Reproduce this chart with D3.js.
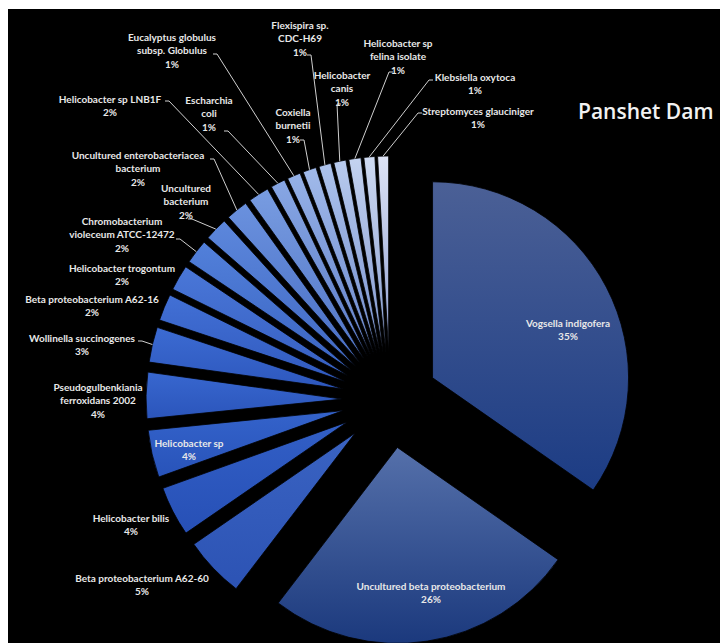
<!DOCTYPE html>
<meta charset="utf-8">
<script src="https://d3js.org/d3.v7.min.js"></script>
<style>
  body { margin: 0; background: #fff; }
</style>
<div id="vis"></div>
<script>

    // species, clockwise from 12 o'clock
    var species = [
        "Vogsella indigofera",
        "Uncultured beta proteobacterium",
        "Beta proteobacterium A62-60",
        "Helicobacter bilis",
        "Helicobacter sp",
        "Pseudogulbenkiania\nferroxidans 2002",
        "Wollinella succinogenes",
        "Beta proteobacterium A62-16",
        "Helicobacter trogontum",
        "Chromobacterium\nvioleceum ATCC-12472",
        "Uncultured\nbacterium",
        "Uncultured enterobacteriacea\nbacterium",
        "Helicobacter sp LNB1F",
        "Escharchia\ncoli",
        "Eucalyptus globulus\nsubsp. Globulus",
        "Coxiella\nburnetii",
        "Flexispira sp.\nCDC-H69",
        "Helicobacter\ncanis",
        "Helicobacter sp\nfelina isolate",
        "Klebsiella oxytoca",
        "Streptomyces glauciniger"
    ];

    // share of each (percent)
    var shares = [34.7, 25.7, 5.0, 4.1, 3.9, 3.8, 2.9, 2.2, 2.1, 2.0, 1.9, 1.8, 1.7,
                  1.2, 1.1, 1.1, 1.0, 1.0, 1.0, 0.9, 0.9];

    var title = "Panshet Dam";

    // label placement (centre of first line) and leader line start, page px
    var labelAt = [
        [568, 323], [431, 586], [142, 578], [131, 518], [189, 443], [98, 387],
        [82, 338], [92, 299], [122, 268], [122, 221], [186, 188], [138, 155],
        [110, 99], [209, 100], [172, 37], [293, 112], [300, 25], [342, 75],
        [398, 43], [475, 77], [478, 111]
    ];
    var leaderFrom = [
        null, null, null, null, null, null,
        [138, 341], null, null, [176, 239], [188, 219], [210, 159],
        [165, 101], [224, 131], [213, 54], [300, 140], [307, 55], [341, 104],
        [393, 72], [433, 80], [422, 113]
    ];

    // slice tints (lighter edge), Excel monochrome blue
    var tint = ["#4b6096", "#5570aa", "#3a63c2", "#325fc6", "#3463cb", "#3867cf",
                "#3c6bd2", "#4270d5", "#4a77d8", "#5280da", "#5c87dc", "#6a91de",
                "#789ce1", "#88a7e4", "#95b1e7", "#a1baea", "#adc3ec", "#b8cbee",
                "#c4d3f0", "#cfdbf2", "#dde3f5"];

    var W = 720, H = 643;
    var cx = 390, cy = 400, radius = 196, explode = 48;

    var svg = d3.select("#vis")
        .append("svg")
        .attr("width", W)
        .attr("height", H);

    svg.append("rect").attr("width", W).attr("height", H).attr("fill", "#fff");
    svg.append("rect").attr("x", 8).attr("y", 9)
        .attr("width", W - 8).attr("height", H - 9).attr("fill", "#000");

    var data = species.map(function (s, i) { return { name: s, value: shares[i], i: i }; });
    var total = d3.sum(shares);

    var pie = d3.pie().sort(null).value(function (d) { return d.value; });
    var arcs = pie(data);
    var arc = d3.arc().innerRadius(0).outerRadius(radius);

    // gradients, one per slice (light top -> darker bottom)
    var defs = svg.append("defs");
    arcs.forEach(function (a, i) {
        var dark = i < 2 ? (i == 0 ? "#1c3c84" : "#1b397d")
            : d3.interpolateRgb(tint[i], "#173a9e")(0.4);
        var g = defs.append("linearGradient")
            .attr("id", "g" + i)
            .attr("x1", 0).attr("y1", 0).attr("x2", 0).attr("y2", 1);
        g.append("stop").attr("offset", "0%").attr("stop-color", tint[i]);
        g.append("stop").attr("offset", "100%").attr("stop-color", dark);
    });

    function offset(a) {
        var m = (a.startAngle + a.endAngle) / 2;
        return [explode * Math.sin(m), -explode * Math.cos(m)];
    }

    var chart = svg.append("g").attr("transform", "translate(" + cx + "," + cy + ")");

    chart.selectAll("path.slice")
        .data(arcs)
        .enter()
        .append("path")
        .attr("class", "slice")
        .attr("transform", function (d) { var o = offset(d); return "translate(" + o[0] + "," + o[1] + ")"; })
        .attr("d", arc)
        .attr("fill", function (d, i) { return "url(#g" + i + ")"; })
        .attr("stroke", "#000")
        .attr("stroke-width", 0.8);

    // leader lines to the middle of each slice's outer edge
    var edge = d3.arc().innerRadius(radius).outerRadius(radius);
    svg.append("g")
        .selectAll("path")
        .data(arcs.filter(function (d, i) { return leaderFrom[i]; }))
        .enter()
        .append("path")
        .attr("d", function (d) {
            var o = offset(d), c = edge.centroid(d);
            var ex = cx + o[0] + c[0], ey = cy + o[1] + c[1];
            var s = leaderFrom[d.data.i];
            var tx = s[0] + (ex > s[0] ? 4 : -4);
            return "M" + s[0] + "," + s[1] + "L" + tx + "," + s[1] + "L" + ex + "," + ey;
        })
        .attr("fill", "none")
        .attr("stroke", "#cfcfcf")
        .attr("stroke-width", 1);

    // data labels
    var labels = svg.append("g")
        .style("font-family", "Lato, 'Open Sans', sans-serif")
        .style("font-weight", 700)
        .style("font-size", "10px")
        .attr("fill", "#e8e8e8")
        .attr("text-anchor", "middle");

    arcs.forEach(function (d, i) {
        var lines = d.data.name.split("\n");
        lines.push(Math.round(d.data.value / total * 100) + "%");
        var t = labels.append("text")
            .attr("x", labelAt[i][0])
            .attr("y", labelAt[i][1] + 3.5);
        lines.forEach(function (l, k) {
            t.append("tspan")
                .attr("x", labelAt[i][0])
                .attr("dy", k == 0 ? 0 : 13.5)
                .text(l);
        });
    });

    svg.append("text")
        .attr("x", 578)
        .attr("y", 119)
        .style("font-family", "'Open Sans', sans-serif")
        .style("font-weight", 600)
        .style("font-size", "21px")
        .attr("fill", "#f2f2f2")
        .text(title);

</script>
